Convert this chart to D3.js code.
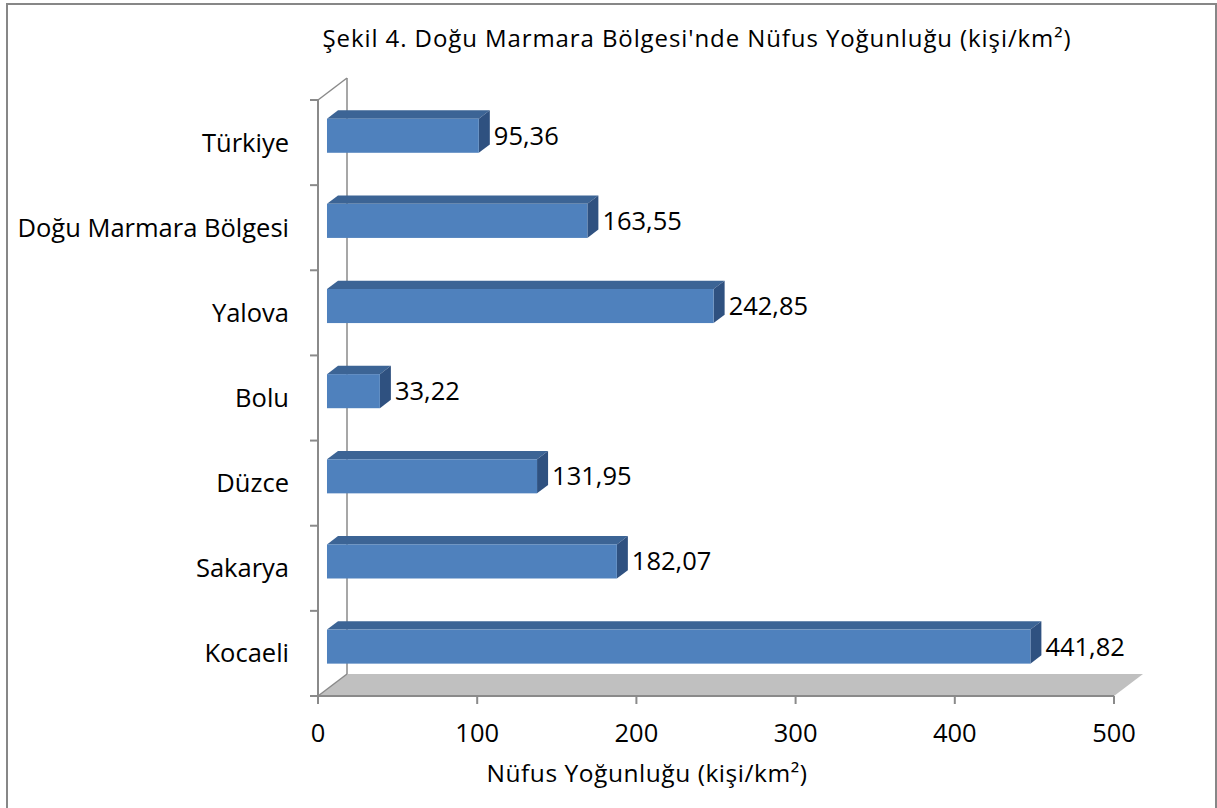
<!DOCTYPE html>
<html><head><meta charset="utf-8">
<script src="https://cdn.jsdelivr.net/npm/d3@7"></script>
<style>
body{margin:0;background:#fff}
svg{display:block}
text{font-family:"Open Sans",sans-serif;fill:#000}
</style>
</head><body>
<svg id="c" width="1217" height="808"></svg>
<script>
// ---- data ----
const categories = ["Türkiye", "Doğu Marmara Bölgesi", "Yalova", "Bolu", "Düzce", "Sakarya", "Kocaeli"];
const values = [95.36, 163.55, 242.85, 33.22, 131.95, 182.07, 441.82];
const valueLabels = ["95,36", "163,55", "242,85", "33,22", "131,95", "182,07", "441,82"];
const xTicks = [0, 100, 200, 300, 400, 500];
const xTickLabels = ["0", "100", "200", "300", "400", "500"];
const titleText = "Şekil 4. Doğu Marmara Bölgesi'nde Nüfus Yoğunluğu (kişi/km²)";
const axisTitleText = "Nüfus Yoğunluğu (kişi/km²)";

// ---- layout ----
const svg = d3.select("#c");
const DX = 29, DY = -22;       // depth offset of the 3D box
const Z0 = 0.31, Z1 = 0.69;    // bar depth range
const axisColor = "#8a8a8a";

const x = d3.scaleLinear().domain([0, 500]).range([318, 1114]);
const y = d3.scaleBand().domain(categories).range([100, 696]).paddingInner(0.6).paddingOuter(0.3);
const yTop = 100, yBot = 696;
const step = y.step();

// outer border
svg.append("rect").attr("x", 7).attr("y", 4).attr("width", 1209).attr("height", 820)
  .attr("fill", "none").attr("stroke", "#878787").attr("stroke-width", 2);

// floor
const x0 = x(0), x1 = x(500);
svg.append("polygon")
  .attr("points", [[x0, yBot], [x0 + DX, yBot + DY], [x1 + DX, yBot + DY], [x1, yBot]].map(p => p.join(",")).join(" "))
  .attr("fill", "#c0c0c0");

// back wall left line and diagonals
svg.append("line").attr("x1", x0 + DX).attr("y1", yTop + DY).attr("x2", x0 + DX).attr("y2", yBot + DY)
  .attr("stroke", axisColor).attr("stroke-width", 1.5);
svg.append("line").attr("x1", x0).attr("y1", yTop).attr("x2", x0 + DX).attr("y2", yTop + DY)
  .attr("stroke", axisColor).attr("stroke-width", 1.5);
svg.append("line").attr("x1", x0).attr("y1", yBot).attr("x2", x0 + DX).attr("y2", yBot + DY)
  .attr("stroke", axisColor).attr("stroke-width", 1.5);

// front vertical axis
svg.append("line").attr("x1", x0).attr("y1", yTop).attr("x2", x0).attr("y2", yBot)
  .attr("stroke", axisColor).attr("stroke-width", 2);
const bounds = categories.map(c => y(c) - y.paddingInner() * step / 2).concat([yBot]);
svg.selectAll(".ytick").data(bounds).join("line")
  .attr("x1", x0 - 8).attr("x2", x0).attr("y1", d => d).attr("y2", d => d)
  .attr("stroke", axisColor).attr("stroke-width", 2);

// front horizontal axis
svg.append("line").attr("x1", x0).attr("y1", yBot).attr("x2", x1).attr("y2", yBot)
  .attr("stroke", axisColor).attr("stroke-width", 2);
svg.selectAll(".xtick").data(xTicks).join("line")
  .attr("x1", d => x(d)).attr("x2", d => x(d)).attr("y1", yBot).attr("y2", yBot + 8)
  .attr("stroke", axisColor).attr("stroke-width", 2);
svg.selectAll(".xlab").data(xTicks).join("text")
  .attr("x", d => x(d)).attr("y", 742).attr("text-anchor", "middle")
  .style("font-size", "25.5px").text((d, i) => xTickLabels[i]);

// bars
const bars = categories.map((c, i) => ({ c, v: values[i], lab: valueLabels[i] }));
const g = svg.append("g");
bars.forEach(b => {
  const fx0 = x(0) + Z0 * DX, fx1 = x(b.v) + Z0 * DX;
  const fy0 = y(b.c) + Z0 * DY, fy1 = fy0 + y.bandwidth();
  const ddx = (Z1 - Z0) * DX, ddy = (Z1 - Z0) * DY;
  g.append("polygon")
    .attr("points", [[fx0, fy0], [fx1, fy0], [fx1 + ddx, fy0 + ddy], [fx0 + ddx, fy0 + ddy]].map(p => p.join(",")).join(" "))
    .attr("fill", "#3c6495");
  g.append("polygon")
    .attr("points", [[fx1, fy0], [fx1 + ddx, fy0 + ddy], [fx1 + ddx, fy1 + ddy], [fx1, fy1]].map(p => p.join(",")).join(" "))
    .attr("fill", "#2f5180");
  g.append("rect").attr("x", fx0).attr("y", fy0).attr("width", fx1 - fx0).attr("height", fy1 - fy0)
    .attr("fill", "#4f81bd");
  g.append("text").attr("x", fx1 + ddx + 4).attr("y", (fy0 + fy1) / 2 + 9)
    .style("font-size", "25.5px").text(b.lab);
});

// category labels
svg.selectAll(".ylab").data(categories).join("text")
  .attr("x", 289).attr("y", d => y(d) + y.bandwidth() / 2 + 9)
  .attr("text-anchor", "end").style("font-size", "25.5px").text(d => d);

// titles, spread to the reference's width
function fitText(sel, target) {
  const n = sel.text().length;
  const len = sel.node().getComputedTextLength();
  sel.style("letter-spacing", ((target - len) / n) + "px");
}
const t1 = svg.append("text").attr("x", 697).attr("y", 47).attr("text-anchor", "middle")
  .style("font-size", "24px").text(titleText);
fitText(t1, 749);
const t2 = svg.append("text").attr("x", 647).attr("y", 782).attr("text-anchor", "middle")
  .style("font-size", "24.5px").text(axisTitleText);
fitText(t2, 321);
</script>
</body></html>
